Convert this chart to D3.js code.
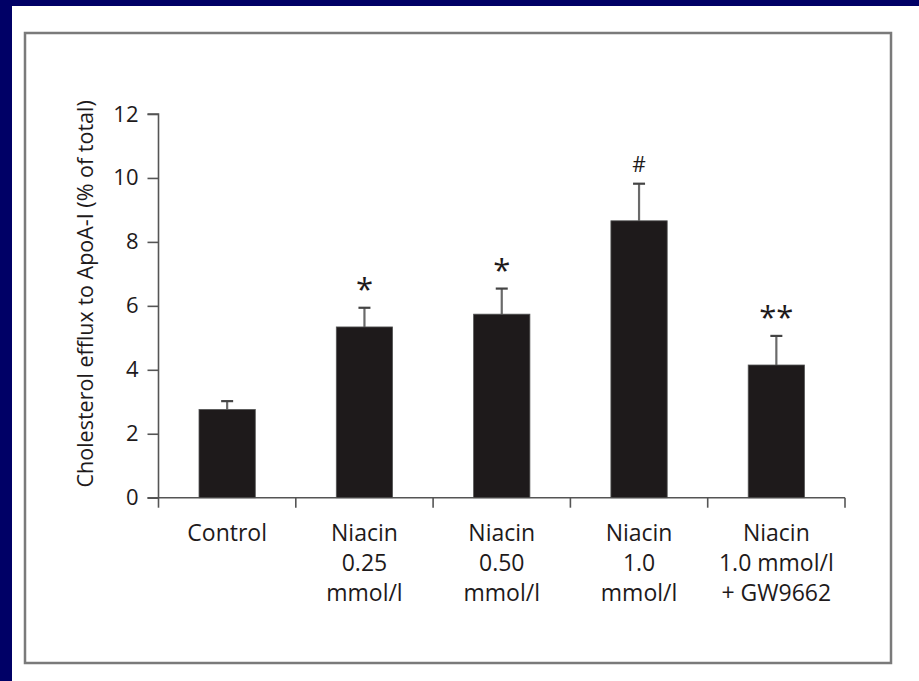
<!DOCTYPE html>
<html><head><meta charset="utf-8">
<script src="https://cdn.jsdelivr.net/npm/d3@7"></script>
<style>html,body{margin:0;padding:0;background:#000066;}svg{display:block;}</style>
</head><body>
<script>
const categories = [
  ["Control"],
  ["Niacin", "0.25", "mmol/l"],
  ["Niacin", "0.50", "mmol/l"],
  ["Niacin", "1.0", "mmol/l"],
  ["Niacin", "1.0 mmol/l", "+ GW9662"]
];
const values = [2.76, 5.34, 5.74, 8.66, 4.15];
const errors = [0.26, 0.60, 0.80, 1.16, 0.91];
const marks = ["", "*", "*", "#", "**"];
const yTicks = [0, 2, 4, 6, 8, 10, 12];
const yLabel = "Cholesterol efflux to ApoA-I (% of total)";

const W = 919, H = 681;
const svg = d3.select("body").append("svg").attr("width", W).attr("height", H);
svg.append("rect").attr("x", 0).attr("y", 0).attr("width", W).attr("height", H).attr("fill", "#000066");
svg.append("rect").attr("x", 12).attr("y", 6).attr("width", W - 12).attr("height", H - 6).attr("fill", "#fff");
svg.append("rect").attr("x", 25).attr("y", 33).attr("width", 866).attr("height", 630)
  .attr("fill", "none").attr("stroke", "#7a7a7a").attr("stroke-width", 2.5);

const font = "'Open Sans', sans-serif";
const ink = "#1e1a1b";
const x0 = 158.5, x1 = 845, yTop = 114, yBot = 497.7;
const x = d3.scaleBand().domain(d3.range(categories.length)).range([x0, x1]).paddingInner(0).paddingOuter(0);
const y = d3.scaleLinear().domain([0, 12]).range([yBot, yTop]);
const barW = x.bandwidth() * 0.41;

// Y axis
const gy = svg.append("g").attr("transform", `translate(${x0},0)`)
  .call(d3.axisLeft(y).tickValues(yTicks).tickSize(11).tickPadding(9).tickFormat(d3.format("d")));
gy.select(".domain").attr("stroke", "#555").attr("stroke-width", 1.6).attr("d", `M-11,${yTop}H0V${yBot}`);
gy.selectAll(".tick line").attr("stroke", "#555").attr("stroke-width", 1.6);
gy.selectAll(".tick text").attr("font-family", font).attr("font-size", 22).attr("fill", ink);

// X axis with boundary ticks
const bounds = d3.range(categories.length + 1).map(i => i < categories.length ? x(i) : x1);
const gx = svg.append("g");
gx.append("line").attr("x1", x0 - 11).attr("x2", x1).attr("y1", yBot).attr("y2", yBot)
  .attr("stroke", "#555").attr("stroke-width", 1.6);
gx.selectAll("line.b").data(bounds).join("line").attr("class", "b")
  .attr("x1", d => d).attr("x2", d => d).attr("y1", yBot).attr("y2", yBot + 10)
  .attr("stroke", "#555").attr("stroke-width", 1.6);

// category labels
const lab = svg.append("g");
categories.forEach((lines, i) => {
  const t = lab.append("text").attr("text-anchor", "middle").attr("font-family", font)
    .attr("font-size", 23).attr("fill", ink);
  lines.forEach((l, j) => {
    t.append("tspan").attr("x", x(i) + x.bandwidth() / 2).attr("y", 541 + j * 30).text(l);
  });
});

// error bars
const eb = svg.append("g");
values.forEach((v, i) => {
  const cx = x(i) + x.bandwidth() / 2;
  eb.append("line").attr("x1", cx).attr("x2", cx).attr("y1", y(v)).attr("y2", y(v + errors[i]))
    .attr("stroke", "#6a6a6a").attr("stroke-width", 2.2);
  eb.append("line").attr("x1", cx - 6).attr("x2", cx + 6).attr("y1", y(v + errors[i])).attr("y2", y(v + errors[i]))
    .attr("stroke", "#444").attr("stroke-width", 2.2);
});

// bars
svg.append("g").selectAll("rect").data(values).join("rect")
  .attr("x", (d, i) => x(i) + (x.bandwidth() - barW) / 2)
  .attr("y", d => y(d)).attr("width", barW).attr("height", d => y(0) - y(d))
  .attr("fill", ink).attr("stroke", "#555").attr("stroke-width", 0.8);

// significance marks
svg.append("g").selectAll("text").data(marks).join("text")
  .attr("x", (d, i) => x(i) + x.bandwidth() / 2)
  .attr("y", (d, i) => y(values[i] + errors[i]) - (d === "#" ? 12 : 8))
  .attr("text-anchor", "middle").attr("font-family", font)
  .attr("font-size", d => d === "#" ? 21 : 31).attr("fill", ink)
  .text(d => d);

// y label
svg.append("text").attr("transform", `translate(93,${(yTop + yBot) / 2 - 12}) rotate(-90)`)
  .attr("text-anchor", "middle").attr("font-family", font).attr("font-size", 21.5).attr("fill", ink)
  .text(yLabel);
</script>
</body></html>
